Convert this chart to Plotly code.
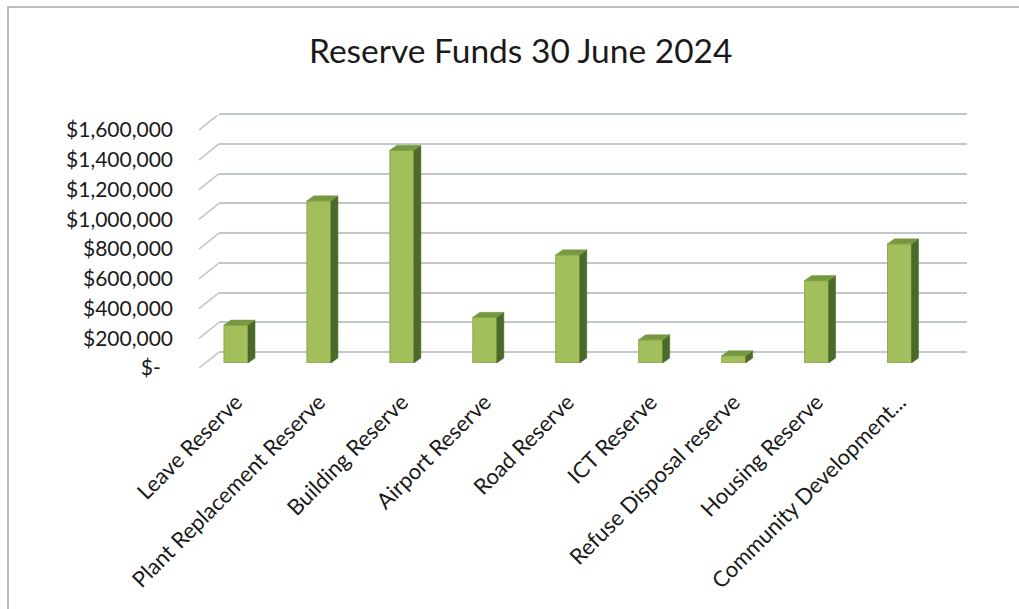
import plotly.graph_objects as go

# ---------------- data ----------------
categories = ["Leave Reserve", "Plant Replacement Reserve", "Building Reserve",
              "Airport Reserve", "Road Reserve", "ICT Reserve",
              "Refuse Disposal reserve", "Housing Reserve", "Community Development..."]
values = [255000, 1090000, 1430000, 307000, 727000, 156000, 49000, 554000, 801000]
tick_values = [0, 200000, 400000, 600000, 800000, 1000000, 1200000, 1400000, 1600000]
tick_labels = ["$-\u2007", "$200,000", "$400,000", "$600,000", "$800,000",
               "$1,000,000", "$1,200,000", "$1,400,000", "$1,600,000"]
title_text = "Reserve Funds 30 June 2024"

# ---------------- geometry helpers (pixels -> paper) ----------------
W, H = 1019, 609
K = 29.75 / 200000.0          # pixels per dollar
def px(p):
    return p / W
def py(p):
    return 1 - p / H

Y_MAX_BAR = 1700000
Y_MAX_GRID = 1650000
BAR_W = 0.29
SIDE_DX = 7 / 82.94           # category units
SIDE_DY = 5 / K               # dollar units
WALL_DY = 16 / K              # depth of left wall in dollar units

FONT = "Lato, 'Open Sans', sans-serif"
FRONT = "#a2bf5b"
SIDE = "#4b6a29"
TOP = "#769840"
GRID = "#c0c8cc"
TXT = "#1a1a1a"

fig = go.Figure()

# back wall gridlines (subplot xy) -- invisible helper trace
fig.add_trace(go.Scatter(x=[0], y=[0], xaxis="x", yaxis="y", mode="markers",
                         marker=dict(opacity=0), hoverinfo="skip", showlegend=False))

# front face of the bars
xs = list(range(len(categories)))
fig.add_trace(go.Bar(x=xs, y=values, width=BAR_W, xaxis="x2", yaxis="y2",
                     marker=dict(color=FRONT, line=dict(color="#809e46", width=0.8)),
                     showlegend=False))

# side and top faces from the data
side_x, side_y, top_x, top_y = [], [], [], []
for i, v in enumerate(values):
    r = i + BAR_W / 2
    l = i - BAR_W / 2
    side_x += [r, r + SIDE_DX, r + SIDE_DX, r, r, None]
    side_y += [0, SIDE_DY, v + SIDE_DY, v, 0, None]
    top_x += [l, l + SIDE_DX, r + SIDE_DX, r, l, None]
    top_y += [v, v + SIDE_DY, v + SIDE_DY, v, v, None]
fig.add_trace(go.Scatter(x=side_x, y=side_y, xaxis="x2", yaxis="y2", mode="lines",
                         fill="toself", fillcolor=SIDE, line=dict(color=SIDE, width=0.5),
                         hoverinfo="skip", showlegend=False))
fig.add_trace(go.Scatter(x=top_x, y=top_y, xaxis="x2", yaxis="y2", mode="lines",
                         fill="toself", fillcolor=TOP, line=dict(color=TOP, width=0.5),
                         hoverinfo="skip", showlegend=False))

# helper trace for the front value-label axis
fig.add_trace(go.Scatter(x=[0], y=[0], xaxis="x2", yaxis="y3", mode="markers",
                         marker=dict(opacity=0), hoverinfo="skip", showlegend=False))

# left wall diagonals, tied to the front label axis
shapes = []
for v in tick_values:
    shapes.append(dict(type="line", xref="paper", yref="y3",
                       x0=px(199), y0=v, x1=px(219), y1=v + WALL_DY,
                       line=dict(color=GRID, width=1.6), layer="below"))
# page frame
shapes.append(dict(type="rect", xref="paper", yref="paper",
                   x0=px(8), y0=-0.2, x1=1.2, y1=py(7),
                   line=dict(color="#a8a8a8", width=1.5), layer="below"))

fig.update_layout(
    width=W, height=H,
    margin=dict(l=0, r=0, t=0, b=0, autoexpand=False),
    paper_bgcolor="white", plot_bgcolor="rgba(0,0,0,0)",
    font=dict(family=FONT, color=TXT),
    shapes=shapes,
    xaxis=dict(domain=[px(219), px(967)], range=[0, 1], visible=False, automargin=False),
    yaxis=dict(domain=[py(352), py(352 - Y_MAX_GRID * K)], range=[0, Y_MAX_GRID],
               anchor="x", showgrid=True, gridcolor=GRID, gridwidth=1.6,
               zeroline=True, zerolinecolor=GRID, zerolinewidth=1.6,
               tickvals=tick_values, showticklabels=False, ticks="", showline=False,
               automargin=False),
    xaxis2=dict(domain=[px(194.5), px(941)], range=[-0.5, len(categories) - 0.5],
                anchor="y2", tickvals=xs, ticktext=categories, tickangle=-45,
                tickfont=dict(size=22, family=FONT, color=TXT),
                showgrid=False, zeroline=False, showline=False, ticks="",
                ticklabelstandoff=21, automargin=False),
    yaxis2=dict(domain=[py(363), py(363 - Y_MAX_BAR * K)], range=[0, Y_MAX_BAR],
                anchor="x2", visible=False, automargin=False),
    yaxis3=dict(domain=[py(368), py(368 - Y_MAX_BAR * K)], range=[0, Y_MAX_BAR],
                anchor="free", position=px(199), side="left",
                tickvals=tick_values, ticktext=tick_labels,
                tickfont=dict(size=21, family=FONT, color=TXT),
                showgrid=False, zeroline=False, showline=False, ticks="",
                ticklabelstandoff=26, automargin=False),
    annotations=[dict(text=title_text, xref="paper", yref="paper",
                      x=px(520), y=py(50), xanchor="center", yanchor="middle",
                      showarrow=False, font=dict(size=33.5, family=FONT, color=TXT))],
)

fig.write_html("out.html")
